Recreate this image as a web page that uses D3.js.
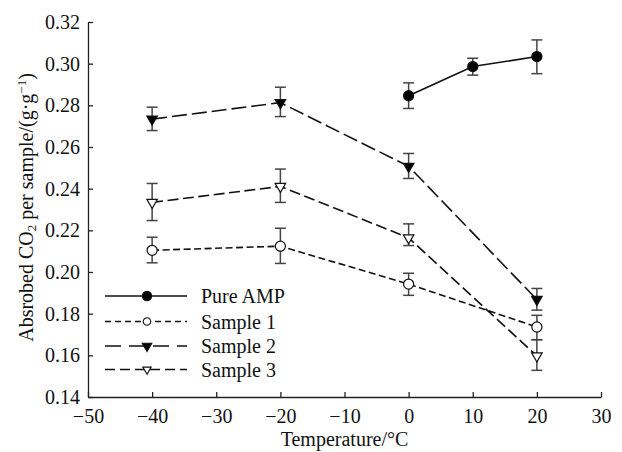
<!DOCTYPE html>
<html><head><meta charset="utf-8">
<script src="https://cdn.jsdelivr.net/npm/d3@7"></script>
<style>body{margin:0;background:#fff}svg{display:block}text{font-family:"Liberation Serif","Times New Roman",serif;fill:#111}</style>
</head><body>
<svg id="c" width="622" height="452"></svg>
<script>
// Data
const ampTemps = [0, 10, 20];
const ampVals = [0.2846, 0.2986, 0.3034];
const ampHi = [0.2908, 0.3026, 0.3114];
const ampLo = [0.2785, 0.2945, 0.2952];

const sTemps = [-40, -20, 0, 20];
const s1Vals = [0.2104, 0.2124, 0.1942, 0.1736];
const s1Hi = [0.2167, 0.2210, 0.1994, 0.1792];
const s1Lo = [0.2044, 0.2041, 0.1888, 0.1675];
const s2Vals = [0.2734, 0.2813, 0.2507, 0.1868];
const s2Hi = [0.2791, 0.2887, 0.2569, 0.1921];
const s2Lo = [0.2679, 0.2746, 0.2449, 0.1817];
const s3Vals = [0.2334, 0.2411, 0.2164, 0.1597];
const s3Hi = [0.2425, 0.2494, 0.2231, 0.1675];
const s3Lo = [0.2247, 0.2334, 0.2127, 0.1528];

const seriesNames = ["Pure AMP", "Sample 1", "Sample 2", "Sample 3"];
const xTicks = [-50, -40, -30, -20, -10, 0, 10, 20, 30];
const yTicks = [0.14, 0.16, 0.18, 0.20, 0.22, 0.24, 0.26, 0.28, 0.30, 0.32];

const series = [
  {name: seriesNames[0], x: ampTemps, y: ampVals, hi: ampHi, lo: ampLo, dash: null, sym: "circle", fill: "#000"},
  {name: seriesNames[1], x: sTemps, y: s1Vals, hi: s1Hi, lo: s1Lo, dash: "7,3.5", sym: "circle", fill: "#fff"},
  {name: seriesNames[2], x: sTemps, y: s2Vals, hi: s2Hi, lo: s2Lo, dash: "15,5", sym: "tri", fill: "#000"},
  {name: seriesNames[3], x: sTemps, y: s3Vals, hi: s3Hi, lo: s3Lo, dash: "11,4.5", sym: "tri", fill: "#fff"}
];
const legendDash = [null, "6,4", "16,8", "10,5"];

const svg = d3.select("#c");
const x = d3.scaleLinear().domain([-50, 30]).range([88, 601]);
const y = d3.scaleLinear().domain([0.14, 0.32]).range([397, 22]);

const fmtX = d => d < 0 ? "\u2212" + Math.abs(d) : String(d);
const FS = "20px";

// axes
const gx = svg.append("g").attr("transform", `translate(0,${y(0.14)})`)
  .call(d3.axisBottom(x).tickValues(xTicks).tickFormat(fmtX).tickSizeInner(-5).tickSizeOuter(0).tickPadding(11.5));
const gy = svg.append("g").attr("transform", `translate(${x(-50)},0)`)
  .call(d3.axisLeft(y).tickValues(yTicks).tickFormat(d3.format(".2f")).tickSizeInner(-5).tickSizeOuter(0).tickPadding(8));
[gx, gy].forEach(g => {
  g.selectAll("path,line").attr("stroke", "#222").attr("stroke-width", 1.3);
  g.selectAll("text").attr("fill", "#111").style("font-size", FS).style("font-family", '"Liberation Serif",serif');
});
gx.selectAll("text").attr("dy", "0.72em");

// axis titles
svg.append("text").attr("x", (x(-50) + x(30)) / 2).attr("y", 446).attr("text-anchor", "middle")
  .style("font-size", FS).text("Temperature/\u00B0C");
const yl = svg.append("text").attr("transform", `translate(33,${(y(0.14) + y(0.32)) / 2 - 2}) rotate(-90)`)
  .attr("text-anchor", "middle").style("font-size", FS);
yl.append("tspan").text("Absrobed CO");
yl.append("tspan").attr("baseline-shift", "-25%").style("font-size", "13px").text("2");
yl.append("tspan").text(" per sample/(g\u00B7g");
yl.append("tspan").attr("baseline-shift", "super").style("font-size", "13px").text("\u22121");
yl.append("tspan").text(")");

const symPath = (s) => s === "circle"
  ? d3.symbol(d3.symbolCircle, 80)()
  : d3.symbol(d3.symbolTriangle, 48)();

// lines
const line = d3.line().x(d => x(d[0])).y(d => y(d[1]));
series.forEach(s => {
  const pts = s.x.map((t, i) => [t, s.y[i]]);
  svg.append("path").datum(pts).attr("d", line).attr("fill", "none")
    .attr("stroke", "#111").attr("stroke-width", 1.6)
    .attr("stroke-dasharray", s.dash);
});
// error bars
series.forEach(s => {
  const g = svg.append("g").attr("stroke", "#444").attr("stroke-width", 1.5);
  s.x.forEach((t, i) => {
    const cx = x(t);
    g.append("line").attr("x1", cx).attr("x2", cx).attr("y1", y(s.hi[i])).attr("y2", y(s.lo[i]));
    g.append("line").attr("x1", cx - 5.5).attr("x2", cx + 5.5).attr("y1", y(s.hi[i])).attr("y2", y(s.hi[i]));
    g.append("line").attr("x1", cx - 5.5).attr("x2", cx + 5.5).attr("y1", y(s.lo[i])).attr("y2", y(s.lo[i]));
  });
});
// markers
series.forEach(s => {
  s.x.forEach((t, i) => {
    svg.append("path").attr("d", symPath(s.sym))
      .attr("transform", `translate(${x(t)},${y(s.y[i])})` + (s.sym === "tri" ? " rotate(180)" : ""))
      .attr("fill", s.fill).attr("stroke", "#111").attr("stroke-width", 1.2);
  });
});

// legend
const legY = [296, 321.5, 346, 369.5];
series.forEach((s, i) => {
  const ly = legY[i];
  svg.append("line").attr("x1", 105).attr("x2", 187).attr("y1", ly).attr("y2", ly)
    .attr("stroke", "#111").attr("stroke-width", 1.5).attr("stroke-dasharray", legendDash[i]);
  svg.append("path").attr("d", s.sym === "circle" ? d3.symbol(d3.symbolCircle, s.fill === "#000" ? 70 : 45)() : d3.symbol(d3.symbolTriangle, s.fill === "#000" ? 40 : 30)())
    .attr("transform", `translate(147,${ly})` + (s.sym === "tri" ? " rotate(180)" : ""))
    .attr("fill", s.fill).attr("stroke", "#111").attr("stroke-width", 1.1);
  svg.append("text").attr("x", 201).attr("y", ly).attr("dy", "0.35em").style("font-size", FS).text(s.name);
});
</script>
</body></html>
